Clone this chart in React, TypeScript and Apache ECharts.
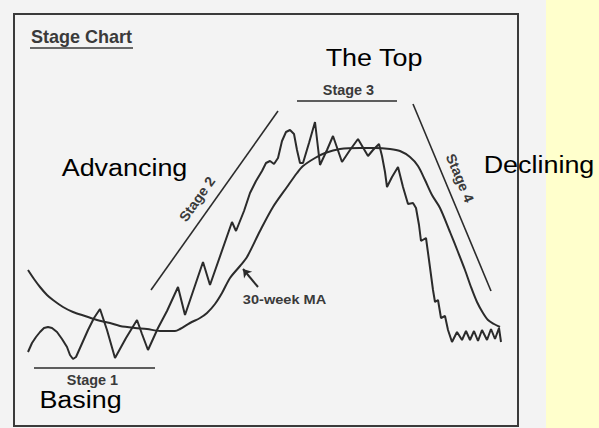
import React, { useEffect, useRef } from "react";
import * as echarts from "echarts";

// Price path (week position, level on an inverted scale)
const priceX = [28, 32, 36, 40, 44, 48, 52, 57, 62, 67, 70, 73, 76, 80, 88, 94, 100, 107, 115, 126, 137, 142, 148, 158, 167, 178, 185, 203, 210, 232, 236, 244, 250, 256, 262, 266, 270, 274, 278, 282, 286, 290, 294, 297, 300, 303, 309, 315, 320, 327, 333, 342, 350, 358, 368, 373, 379, 382, 385, 387, 392, 398, 403, 408, 413, 416, 419, 421, 426, 429, 433, 435, 438, 441, 445, 448, 452, 457, 462, 466, 470, 474, 478, 482, 487, 491, 495, 499, 501];
const priceY = [352, 343, 337, 332, 328, 327, 328, 332, 339, 347, 355, 359, 357, 348, 330, 318, 309, 330, 358, 338, 320, 334, 350, 328, 311, 287, 315, 262, 285, 222, 231, 211, 193, 181, 171, 163, 161, 164, 158, 141, 132, 130, 134, 150, 163, 163, 143, 122, 165, 150, 136, 162, 150, 139, 156, 150, 144, 156, 172, 187, 177, 167, 187, 204, 203, 208, 225, 241, 238, 260, 290, 302, 300, 318, 316, 330, 342, 332, 340, 331, 340, 331, 341, 330, 340, 329, 339, 328, 342];

// 30-week moving average
const maX = [28, 34, 40, 47, 53, 63, 73, 85, 97, 110, 120, 135, 147, 160, 175, 180, 190, 200, 207, 215, 222, 230, 240, 247, 260, 273, 287, 297, 303, 315, 325, 340, 360, 375, 390, 400, 410, 418, 425, 432, 440, 450, 458, 465, 471, 477, 483, 488, 494, 500];
const maY = [270, 279, 287, 295, 300, 307, 312, 316, 320, 323, 326, 328, 329, 331, 331, 329, 323, 318, 313, 304, 293, 278, 266, 257, 231, 207, 187, 173, 166, 158, 153, 149, 148, 148, 149, 151, 157, 166, 180, 195, 208, 232, 252, 270, 287, 302, 313, 320, 324, 327];

// Stage guide lines
const stage1X = [34, 155];
const stage1Y = [368, 368];
const stage2X = [151, 278];
const stage2Y = [290, 111];
const stage3X = [297, 397];
const stage3Y = [101, 101];
const stage4X = [413, 491];
const stage4Y = [104, 291];
const arrowX = [258, 243];
const arrowY = [287, 269];

const zip = (xs: number[], ys: number[]) => xs.map((x, i) => [x, ys[i]]);

export default function App() {
  const ref = useRef<HTMLDivElement>(null);
  useEffect(() => {
    const chart = echarts.init(ref.current!, null, { renderer: "svg" });
    const ink = "#2b2b2b";
    const label = "#3a3a3a";
    const bigFont = "Liberation Sans, Arial, sans-serif";
    const guide = (name: string, xs: number[], ys: number[]) => ({
      name,
      type: "line",
      data: zip(xs, ys),
      symbol: "none",
      z: 5,
      lineStyle: { color: ink, width: 1.6 },
    });
    const bigText = (text: string, x: number, y: number) => ({
      type: "text",
      x,
      y,
      scaleX: 1.17,
      z: 20,
      style: {
        text,
        fontSize: 23,
        fontFamily: bigFont,
        fill: "#000",
        textAlign: "center",
        textVerticalAlign: "middle",
        align: "center",
        verticalAlign: "middle",
      },
    });
    const smallText = (text: string, x: number, y: number, rotation = 0, size = 14, sx = 1.03) => ({
      type: "text",
      x,
      y,
      rotation,
      scaleX: sx,
      z: 20,
      style: {
        text,
        fontSize: size,
        fontWeight: "bold",
        fontFamily: bigFont,
        fill: label,
        textAlign: "center",
        textVerticalAlign: "middle",
        align: "center",
        verticalAlign: "middle",
      },
    });
    chart.setOption({
      animation: false,
      backgroundColor: "#f3f3f3",
      grid: { left: 0, right: 0, top: 0, bottom: 0 },
      xAxis: { type: "value", min: 0, max: 599, show: false },
      yAxis: { type: "value", min: 0, max: 428, inverse: true, show: false },
      graphic: [
        {
          type: "rect",
          z: 0,
          shape: { x: 546, y: 0, width: 53, height: 428 },
          style: { fill: "#ffffcc" },
        },
        {
          type: "rect",
          z: 1,
          shape: { x: 14, y: 14, width: 504, height: 412 },
          style: { fill: "none", stroke: "#3a3a3a", lineWidth: 2 },
        },
        {
          type: "line",
          z: 1,
          shape: { x1: 30, y1: 48, x2: 133, y2: 48 },
          style: { stroke: label, lineWidth: 1.5 },
        },
        smallText("Stage Chart", 81.5, 36, 0, 19, 0.95),
        smallText("Stage 3", 348.5, 90),
        smallText("Stage 1", 92.5, 380),
        smallText("30-week MA", 284.5, 300, 0, 13, 1.12),
        smallText("Stage 2", 197, 199, 0.953),
        smallText("Stage 4", 460, 178, -1.176),
        bigText("Advancing", 124.5, 168),
        bigText("The Top", 374, 58),
        bigText("Declining", 539, 165),
        bigText("Basing", 80.5, 400),
      ],
      series: [
        {
          name: "Price",
          type: "line",
          data: zip(priceX, priceY),
          symbol: "none",
          z: 6,
          lineStyle: { color: ink, width: 2 },
        },
        {
          name: "30-week MA",
          type: "line",
          data: zip(maX, maY),
          symbol: "none",
          smooth: 0.3,
          z: 6,
          lineStyle: { color: ink, width: 2 },
        },
        guide("Stage 1", stage1X, stage1Y),
        guide("Stage 2", stage2X, stage2Y),
        guide("Stage 3", stage3X, stage3Y),
        guide("Stage 4", stage4X, stage4Y),
        {
          name: "Arrow",
          type: "lines",
          coordinateSystem: "cartesian2d",
          z: 6,
          symbol: ["none", "arrow"],
          symbolSize: 8,
          lineStyle: { color: ink, width: 2, opacity: 1 },
          data: [{ coords: zip(arrowX, arrowY) }],
        },
      ],
    });
    return () => chart.dispose();
  }, []);
  return (
    <div
      ref={ref}
      style={{ position: "fixed", left: 0, top: 0, width: 599, height: 428 }}
    />
  );
}
